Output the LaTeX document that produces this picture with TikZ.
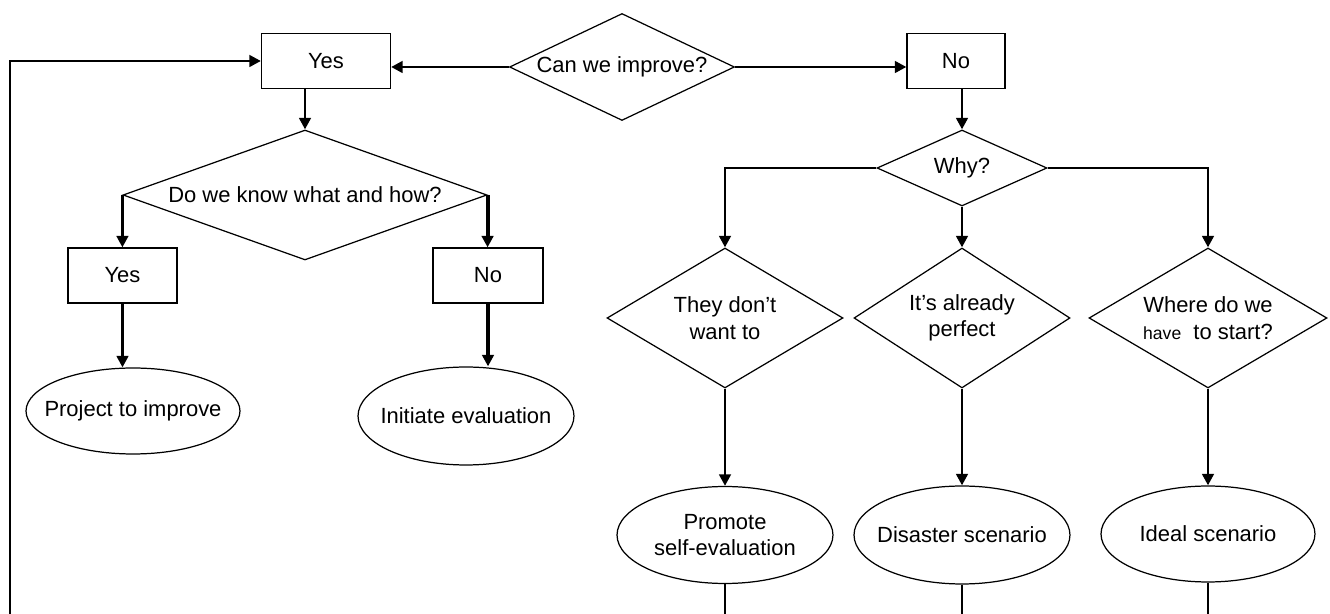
\documentclass[tikz,border=0pt]{standalone}
\usepackage{fontspec}
\setmainfont{Liberation Sans}
\usetikzlibrary{shapes.geometric,arrows.meta}
\tikzset{
  box/.style={draw, line width=0.7pt, minimum height=1.1cm, inner sep=0pt},
  decision/.style={diamond, draw, line width=0.7pt, inner sep=0pt},
  outcome/.style={ellipse, draw, line width=0.7pt, inner sep=0pt},
  bar/.style={line width=1.6pt},
  flow/.style={bar, -{Triangle[length=6.5pt,width=6.5pt]}},
  heavyflow/.style={flow, line width=2.3pt},
  tail/.style={line width=0.7pt}
}
\begin{document}
\begin{tikzpicture}[x=0.02cm, y=-0.02cm, font=\fontsize{12.5}{15}\selectfont]
  \useasboundingbox (0,0) rectangle (1330,614);
  % first question
  \node[decision, minimum width=4.5cm, minimum height=2.14cm,
        label=center:{Can we improve?}] (improve) at (622,67) {};
  \node[box, minimum width=2.58cm] (yes) at (326,61) {Yes};
  \node[box, minimum width=1.96cm] (no) at (956,61) {No};
  % yes side
  \node[decision, minimum width=7.28cm, minimum height=2.6cm,
        label=center:{Do we know what and how?}] (knowhow) at (305,195) {};
  \node[box, minimum width=2.18cm] (yes2) at (122.5,275.5) {Yes};
  \node[box, minimum width=2.2cm] (no2) at (488,275.5) {No};
  \node[outcome, minimum width=4.28cm, minimum height=1.72cm,
        label=center:{Project to improve}] (project) at (133,411) {};
  \node[outcome, minimum width=4.32cm, minimum height=1.96cm,
        label=center:{Initiate evaluation}] (initiate) at (466,416) {};
  % no side
  \node[decision, minimum width=3.4cm, minimum height=1.52cm,
        label=center:{Why?}] (why) at (962,168) {};
  \node[decision, minimum width=4.72cm, minimum height=2.8cm,
        label={[align=center]center:They don't\\want to}] (they) at (725,318) {};
  \node[decision, minimum width=4.32cm, minimum height=2.8cm,
        label={[align=center]center:It's already\\perfect}] (perfect) at (962,318) {};
  \node[decision, minimum width=4.76cm, minimum height=2.8cm,
        label={[align=center]center:Where do we\\{\fontsize{10}{15}\selectfont have}\ \ to start?}] (start) at (1208,318) {};
  \node[outcome, minimum width=4.32cm, minimum height=1.94cm,
        label={[align=center]center:Promote\\self-evaluation}] (promote) at (725,535) {};
  \node[outcome, minimum width=4.32cm, minimum height=1.96cm,
        label=center:{Disaster scenario}] (disaster) at (962,535) {};
  \node[outcome, minimum width=4.28cm, minimum height=1.92cm,
        label=center:{Ideal scenario}] (ideal) at (1208,534) {};
  % free end of the loop at the bottom edge
  \coordinate (loopend) at (10,614);
  % connectors
  \draw[flow] (improve.west) -- (improve.west -| yes.east);
  \draw[flow] (improve.east) -- (improve.east -| no.west);
  \draw[flow] (loopend) |- (yes.west);
  \draw[flow] (knowhow.north |- yes.south) -- (knowhow.north);
  \draw[flow] (knowhow.west) -- (knowhow.west |- yes2.north);
  \draw[heavyflow] (knowhow.east) -- (knowhow.east |- no2.north);
  \draw[flow] (yes2.south) -- (yes2.south |- project.north);
  \draw[heavyflow] (no2.south) -- (no2.south |- initiate.north);
  \draw[flow] (why.north |- no.south) -- (why.north);
  \draw[flow] (why.west) -| (they.north);
  \draw[flow] (why.south) -- (perfect.north);
  \draw[flow] (why.east) -| (start.north);
  \draw[flow] (they.south) -- (promote.north);
  \draw[flow] (perfect.south) -- (disaster.north);
  \draw[flow] (start.south) -- (ideal.north);
  \draw[tail] (promote.south) -- (promote.south |- loopend);
  \draw[tail] (disaster.south) -- (disaster.south |- loopend);
  \draw[bar] (ideal.south) -- (ideal.south |- loopend);
\end{tikzpicture}
\end{document}
